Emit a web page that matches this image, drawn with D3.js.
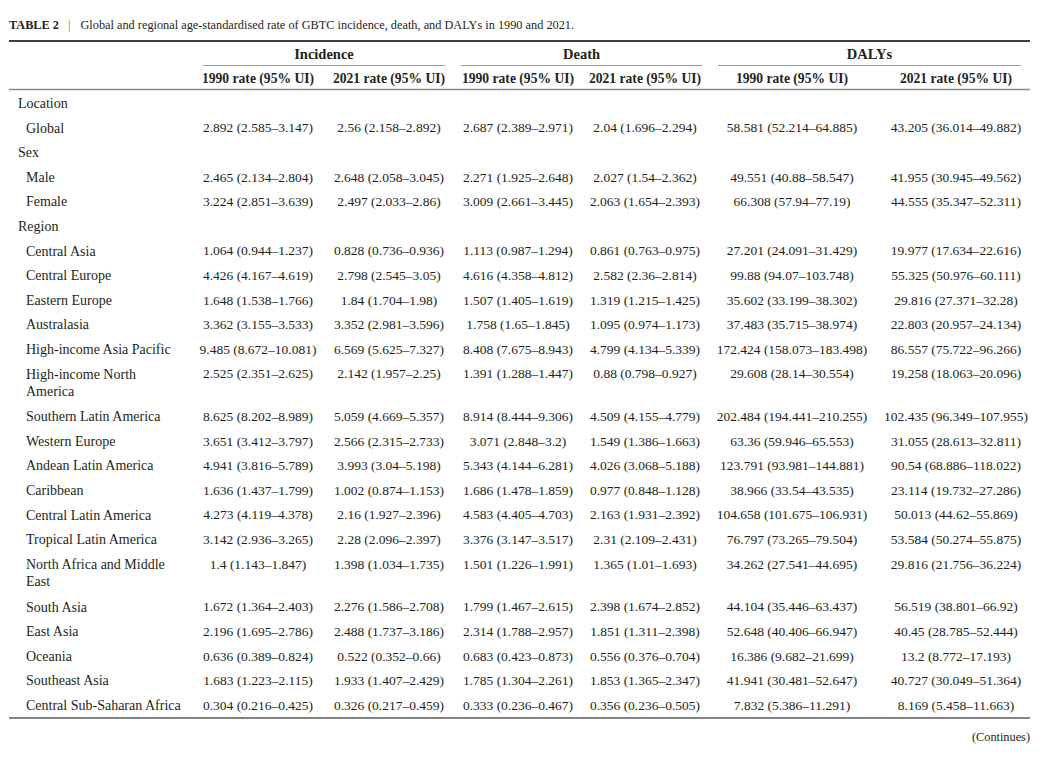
<!DOCTYPE html>
<html>
<head>
<meta charset="utf-8">
<script src="https://cdn.jsdelivr.net/npm/d3@7"></script>
<style>
    body { margin: 0; background: #fff; }
    svg { display: block; }
</style>
</head>
<body>
<div id="chart"></div>
<script>
// ---- data ----
const captionLabel = "TABLE 2";
const captionText = "Global and regional age-standardised rate of GBTC incidence, death, and DALYs in 1990 and 2021.";
const groups = ["Incidence", "Death", "DALYs"];
const periods = ["1990 rate (95% UI)", "2021 rate (95% UI)"];
const columns = ["inc1990", "inc2021", "death1990", "death2021", "daly1990", "daly2021"];

// 0 = section heading, 1 = location row
const locations = [
    ["Location", 0], ["Global", 1],
    ["Sex", 0], ["Male", 1], ["Female", 1],
    ["Region", 0], ["Central Asia", 1], ["Central Europe", 1], ["Eastern Europe", 1],
    ["Australasia", 1], ["High-income Asia Pacific", 1], ["High-income North America", 1],
    ["Southern Latin America", 1], ["Western Europe", 1], ["Andean Latin America", 1],
    ["Caribbean", 1], ["Central Latin America", 1], ["Tropical Latin America", 1],
    ["North Africa and Middle East", 1], ["South Asia", 1], ["East Asia", 1],
    ["Oceania", 1], ["Southeast Asia", 1], ["Central Sub-Saharan Africa", 1]
];

const inc1990 = [null, "2.892 (2.585–3.147)", null, "2.465 (2.134–2.804)", "3.224 (2.851–3.639)", null,
    "1.064 (0.944–1.237)", "4.426 (4.167–4.619)", "1.648 (1.538–1.766)", "3.362 (3.155–3.533)",
    "9.485 (8.672–10.081)", "2.525 (2.351–2.625)", "8.625 (8.202–8.989)", "3.651 (3.412–3.797)",
    "4.941 (3.816–5.789)", "1.636 (1.437–1.799)", "4.273 (4.119–4.378)", "3.142 (2.936–3.265)",
    "1.4 (1.143–1.847)", "1.672 (1.364–2.403)", "2.196 (1.695–2.786)", "0.636 (0.389–0.824)",
    "1.683 (1.223–2.115)", "0.304 (0.216–0.425)"];

const inc2021 = [null, "2.56 (2.158–2.892)", null, "2.648 (2.058–3.045)", "2.497 (2.033–2.86)", null,
    "0.828 (0.736–0.936)", "2.798 (2.545–3.05)", "1.84 (1.704–1.98)", "3.352 (2.981–3.596)",
    "6.569 (5.625–7.327)", "2.142 (1.957–2.25)", "5.059 (4.669–5.357)", "2.566 (2.315–2.733)",
    "3.993 (3.04–5.198)", "1.002 (0.874–1.153)", "2.16 (1.927–2.396)", "2.28 (2.096–2.397)",
    "1.398 (1.034–1.735)", "2.276 (1.586–2.708)", "2.488 (1.737–3.186)", "0.522 (0.352–0.66)",
    "1.933 (1.407–2.429)", "0.326 (0.217–0.459)"];

const death1990 = [null, "2.687 (2.389–2.971)", null, "2.271 (1.925–2.648)", "3.009 (2.661–3.445)", null,
    "1.113 (0.987–1.294)", "4.616 (4.358–4.812)", "1.507 (1.405–1.619)", "1.758 (1.65–1.845)",
    "8.408 (7.675–8.943)", "1.391 (1.288–1.447)", "8.914 (8.444–9.306)", "3.071 (2.848–3.2)",
    "5.343 (4.144–6.281)", "1.686 (1.478–1.859)", "4.583 (4.405–4.703)", "3.376 (3.147–3.517)",
    "1.501 (1.226–1.991)", "1.799 (1.467–2.615)", "2.314 (1.788–2.957)", "0.683 (0.423–0.873)",
    "1.785 (1.304–2.261)", "0.333 (0.236–0.467)"];

const death2021 = [null, "2.04 (1.696–2.294)", null, "2.027 (1.54–2.362)", "2.063 (1.654–2.393)", null,
    "0.861 (0.763–0.975)", "2.582 (2.36–2.814)", "1.319 (1.215–1.425)", "1.095 (0.974–1.173)",
    "4.799 (4.134–5.339)", "0.88 (0.798–0.927)", "4.509 (4.155–4.779)", "1.549 (1.386–1.663)",
    "4.026 (3.068–5.188)", "0.977 (0.848–1.128)", "2.163 (1.931–2.392)", "2.31 (2.109–2.431)",
    "1.365 (1.01–1.693)", "2.398 (1.674–2.852)", "1.851 (1.311–2.398)", "0.556 (0.376–0.704)",
    "1.853 (1.365–2.347)", "0.356 (0.236–0.505)"];

const daly1990 = [null, "58.581 (52.214–64.885)", null, "49.551 (40.88–58.547)", "66.308 (57.94–77.19)", null,
    "27.201 (24.091–31.429)", "99.88 (94.07–103.748)", "35.602 (33.199–38.302)", "37.483 (35.715–38.974)",
    "172.424 (158.073–183.498)", "29.608 (28.14–30.554)", "202.484 (194.441–210.255)", "63.36 (59.946–65.553)",
    "123.791 (93.981–144.881)", "38.966 (33.54–43.535)", "104.658 (101.675–106.931)", "76.797 (73.265–79.504)",
    "34.262 (27.541–44.695)", "44.104 (35.446–63.437)", "52.648 (40.406–66.947)", "16.386 (9.682–21.699)",
    "41.941 (30.481–52.647)", "7.832 (5.386–11.291)"];

const daly2021 = [null, "43.205 (36.014–49.882)", null, "41.955 (30.945–49.562)", "44.555 (35.347–52.311)", null,
    "19.977 (17.634–22.616)", "55.325 (50.976–60.111)", "29.816 (27.371–32.28)", "22.803 (20.957–24.134)",
    "86.557 (75.722–96.266)", "19.258 (18.063–20.096)", "102.435 (96.349–107.955)", "31.055 (28.613–32.811)",
    "90.54 (68.886–118.022)", "23.114 (19.732–27.286)", "50.013 (44.62–55.869)", "53.584 (50.274–55.875)",
    "29.816 (21.756–36.224)", "56.519 (38.801–66.92)", "40.45 (28.785–52.444)", "13.2 (8.772–17.193)",
    "40.727 (30.049–51.364)", "8.169 (5.458–11.663)"];

const continues = "(Continues)";

// ---- layout ----
const width = 1049;
const height = 765;
const font = "'Liberation Serif', 'Times New Roman', serif";
const textColor = "#231f20";
const labelWrap = 158;
const rowPitch = 24.6;
const lineGap = 18.1;
const firstRow = 103;

const values = { inc1990, inc2021, death1990, death2021, daly1990, daly2021 };

const colX = d3.scaleOrdinal()
    .domain(columns)
    .range([258, 389, 518, 645, 792, 956]);

const groupSpan = d3.scaleOrdinal()
    .domain(groups)
    .range([[203, 445], [461, 702], [718, 1021]]);

const svg = d3.select("#chart")
    .append("svg")
    .attr("width", width)
    .attr("height", height)
    .style("font-family", font)
    .style("fill", textColor);

// caption
const caption = svg.append("text")
    .attr("x", 9)
    .attr("y", 29)
    .style("font-size", "12.3px");
caption.append("tspan").style("font-weight", "bold").text(captionLabel);
caption.append("tspan").attr("dx", 9).style("fill", "#777").text("|");
caption.append("tspan").attr("dx", 10).text(captionText);

// rules
const rule = (y, x0, x1, color, w) => svg.append("line")
    .attr("x1", x0).attr("x2", x1)
    .attr("y1", y).attr("y2", y)
    .attr("stroke", color)
    .attr("stroke-width", w);

rule(41, 9, 1030, "#000", 1.3);
rule(89.5, 9, 1030, "#8a8a8a", 1.5);

// group headers
groups.forEach(g => {
    const [x0, x1] = groupSpan(g);
    svg.append("text")
        .attr("x", (x0 + x1) / 2)
        .attr("y", 54)
        .attr("dy", "0.35em")
        .attr("text-anchor", "middle")
        .style("font-size", "14.5px")
        .style("font-weight", "bold")
        .text(g);
    rule(65.5, x0, x1, "#9a9a9a", 1.2);
});

// period headers
columns.forEach((c, i) => {
    svg.append("text")
        .attr("x", colX(c))
        .attr("y", 78)
        .attr("dy", "0.35em")
        .attr("text-anchor", "middle")
        .style("font-size", "13.6px")
        .style("font-weight", "bold")
        .text(periods[i % 2]);
});

// body rows
const body = svg.append("g").style("font-size", "13.5px");
let y = firstRow;

locations.forEach(([name, level], i) => {
    const lx = level === 0 ? 18 : 26;
    const label = body.append("text")
        .attr("x", lx)
        .attr("y", y)
        .attr("dy", "0.35em")
        .style("font-size", "14px");

    // word wrap label to the first column width
    const words = name.split(" ");
    let line = [];
    let lines = 1;
    let tspan = label.append("tspan").attr("x", lx);
    words.forEach(w => {
        line.push(w);
        tspan.text(line.join(" "));
        if (tspan.node().getComputedTextLength() > labelWrap && line.length > 1) {
            line.pop();
            tspan.text(line.join(" "));
            line = [w];
            lines += 1;
            tspan = label.append("tspan")
                .attr("x", lx)
                .attr("dy", 17)
                .text(w);
        }
    });

    columns.forEach(c => {
        const v = values[c][i];
        if (v == null) return;
        body.append("text")
            .attr("x", colX(c))
            .attr("y", y)
            .attr("dy", "0.35em")
            .attr("text-anchor", "middle")
            .text(v);
    });

    y += rowPitch + lineGap * (lines - 1);
});

rule(718, 9, 1030, "#5a5a5a", 1.5);

svg.append("text")
    .attr("x", 1030)
    .attr("y", 737)
    .attr("dy", "0.35em")
    .attr("text-anchor", "end")
    .style("font-size", "12.3px")
    .text(continues);
</script>
</body>
</html>
